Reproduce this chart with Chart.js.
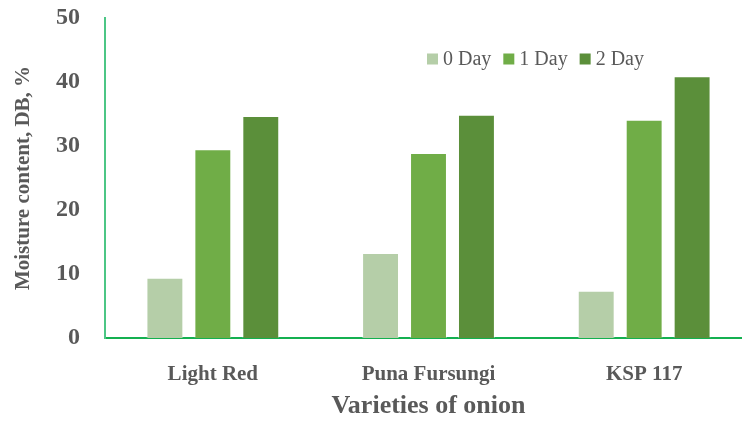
<!DOCTYPE html>
<html>
<head>
<meta charset="utf-8">
<script src="https://cdn.jsdelivr.net/npm/chart.js@4/dist/chart.umd.min.js"></script>
<style>
  html, body { margin: 0; padding: 0; background: #fff; overflow: hidden; }
  #wrap { width: 760px; height: 423px; }
</style>
</head>
<body>
<div id="wrap"><canvas id="moistureChart" width="760" height="423"></canvas></div>
<script>
const varieties = ['Light Red', 'Puna Fursungi', 'KSP 117']
const day0 = [9.4, 13.3, 7.4]
const day1 = [29.5, 28.9, 34.1]
const day2 = [34.7, 34.9, 40.9]
const seriesNames = ['0 Day', '1 Day', '2 Day']
const yTicks = [0, 10, 20, 30, 40, 50]

const colors = ['#b5cea8', '#70ad47', '#5b8f3a']

// legend sits inside the plot, so draw it by hand
const insideLegend = {
    id: 'insideLegend',
    afterDraw(chart) {
        const c = chart.ctx
        let x = 427
        const y = 59
        c.save()
        c.font = '20px "Liberation Serif"'
        c.textBaseline = 'middle'
        chart.data.datasets.forEach(function (ds) {
            c.fillStyle = ds.backgroundColor
            c.fillRect(x, y - 5.5, 11, 11)
            x += 16
            c.fillStyle = '#595959'
            c.fillText(ds.label, x, y + 1)
            x += c.measureText(ds.label).width + 12
        })
        c.restore()
    }
}

const data = {
    labels: varieties,
    datasets: [day0, day1, day2].map(function (vals, i) {
        return {
            label: seriesNames[i],
            data: vals,
            backgroundColor: colors[i],
            borderColor: 'rgba(255,255,255,0.35)',
            borderWidth: 1,
            categoryPercentage: 0.667,
            barPercentage: 0.77
        }
    })
}

const config = {
    type: 'bar',
    data: data,
    options: {
        responsive: false,
        animation: false,
        devicePixelRatio: 1,
        layout: { padding: { top: 18, right: 8, left: 0, bottom: 0 } },
        plugins: {
            legend: { display: false },
            tooltip: { enabled: false }
        },
        scales: {
            x: {
                grid: { display: false, drawTicks: false },
                border: { display: true, color: '#14b050', width: 2 },
                ticks: {
                    color: '#595959',
                    padding: 24,
                    font: { family: 'Liberation Serif', size: 21, weight: 'bold' }
                },
                title: {
                    display: true,
                    text: 'Varieties of onion',
                    color: '#595959',
                    padding: { top: 0, bottom: 1 },
                    font: { family: 'Liberation Serif', size: 26, weight: 'bold' }
                },
                afterFit: function (scale) { scale.height = 85 }
            },
            y: {
                min: 0,
                max: 50,
                afterBuildTicks: function (scale) {
                    scale.ticks = yTicks.map(function (v) { return { value: v } })
                },
                grid: { display: false, drawTicks: false },
                border: { display: true, color: '#4cc685', width: 2 },
                ticks: {
                    color: '#595959',
                    padding: 25,
                    font: { family: 'Liberation Serif', size: 24, weight: 'bold' }
                },
                title: {
                    display: true,
                    text: 'Moisture content, DB, %',
                    color: '#595959',
                    padding: 11,
                    font: { family: 'Liberation Serif', size: 21, weight: 'bold' }
                },
                afterFit: function (scale) {
                    scale.width = 105
                    scale.paddingTop = 0
                    scale.paddingBottom = 0
                }
            }
        }
    },
    plugins: [insideLegend]
}

const myChart = new Chart(document.getElementById('moistureChart'), config)
</script>
</body>
</html>
